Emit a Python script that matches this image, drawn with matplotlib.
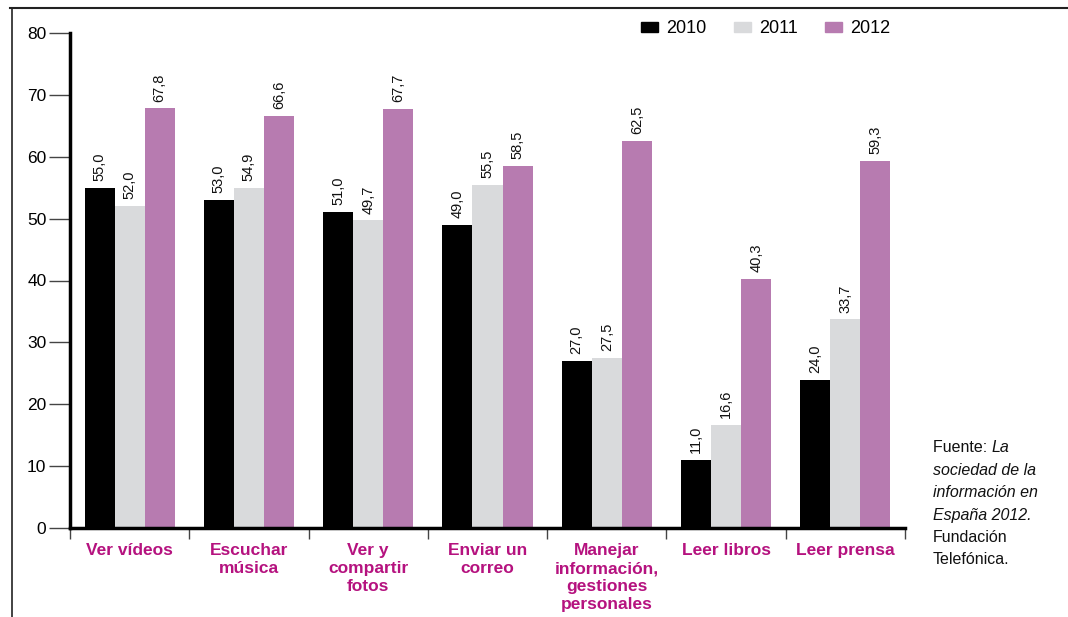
import matplotlib.pyplot as plt
from matplotlib.lines import Line2D
from matplotlib.patches import Patch
import numpy as np

plt.rcParams['font.family'] = ['Liberation Sans', 'DejaVu Sans']

# Data
categories = ['Ver vídeos', 'Escuchar\nmúsica', 'Ver y\ncompartir\nfotos', 'Enviar un\ncorreo',
              'Manejar\ninformación,\ngestiones\npersonales', 'Leer libros', 'Leer prensa']
years = ['2010', '2011', '2012']
v2010 = [55.0, 53.0, 51.0, 49.0, 27.0, 11.0, 24.0]
v2011 = [52.0, 54.9, 49.7, 55.5, 27.5, 16.6, 33.7]
v2012 = [67.8, 66.6, 67.7, 58.5, 62.5, 40.3, 59.3]
series = [v2010, v2011, v2012]
colors = ['#000000', '#d9dadc', '#b77bb0']
label_color = '#b5127f'

W, H = 1068, 617
fig = plt.figure(figsize=(W / 100, H / 100), dpi=100)
ax = fig.add_axes([70 / W, 1 - 528 / H, (905 - 70) / W, (528 - 33) / H])

x = np.arange(len(categories))
bw = 0.252
for i, (vals, c) in enumerate(zip(series, colors)):
    pos = x + (i - 1) * bw
    ax.bar(pos, vals, bw, color=c, label=years[i], zorder=2)
    for p, v in zip(pos, vals):
        ax.annotate(f'{v:.1f}'.replace('.', ','), (p, v), xytext=(0, 5),
                    textcoords='offset points', rotation=90, ha='center', va='bottom',
                    fontsize=10.5, color='#111111')

ax.set_xlim(-0.5, len(categories) - 0.5)
ax.set_ylim(0, 80)
ax.set_yticks(range(0, 81, 10))
ax.tick_params(axis='y', length=15, width=1, color='#444444', labelsize=12.5, pad=2)

ax.set_xticks(x)
ax.set_xticklabels(categories, fontsize=12.5, fontweight='bold', color=label_color, linespacing=1.25, va='top')
ax.tick_params(axis='x', which='major', length=0, pad=11)
ax.set_xticks(np.arange(-0.5, len(categories)), minor=True)
ax.tick_params(axis='x', which='minor', length=8, width=1, color='#444444', direction='out')

for s in ['top', 'right']:
    ax.spines[s].set_visible(False)
ax.spines['left'].set_linewidth(2.5)
ax.spines['bottom'].set_linewidth(2.5)

# Legend
handles = [Patch(color=c) for c in colors]
fig.legend(handles, years, loc='upper left', bbox_to_anchor=(625 / W, 1 - 4 / H), ncol=3,
           frameon=False, fontsize=13, handlelength=0.95, handleheight=0.45,
           handletextpad=0.45, columnspacing=1.5)

# Frame lines
fig.add_artist(Line2D([10 / W, 1], [1 - 8 / H, 1 - 8 / H], color='#222222', lw=1.5))
fig.add_artist(Line2D([12 / W, 12 / W], [1 - 8 / H, 0], color='#222222', lw=1.2))

# Source note
fs = 11.5
lines = [('Fuente: ', 'La'), ('', 'sociedad de la'), ('', 'información en'),
         ('', 'España 2012.'), ('Fundación', ''), ('Telefónica.', '')]
fig.canvas.draw()
renderer = fig.canvas.get_renderer()
x0 = 933 / W
y0 = 1 - 448 / H
dy = 22.4 / H
for k, (normal, italic) in enumerate(lines):
    yy = y0 - k * dy
    xx = x0
    if normal:
        t = fig.text(xx, yy, normal, fontsize=fs, va='center', ha='left', color='#111111')
        bb = t.get_window_extent(renderer)
        xx = bb.x1 / W
    if italic:
        fig.text(xx, yy, italic, fontsize=fs, va='center', ha='left', style='italic', color='#111111')

fig.savefig('out.png', dpi=100)
